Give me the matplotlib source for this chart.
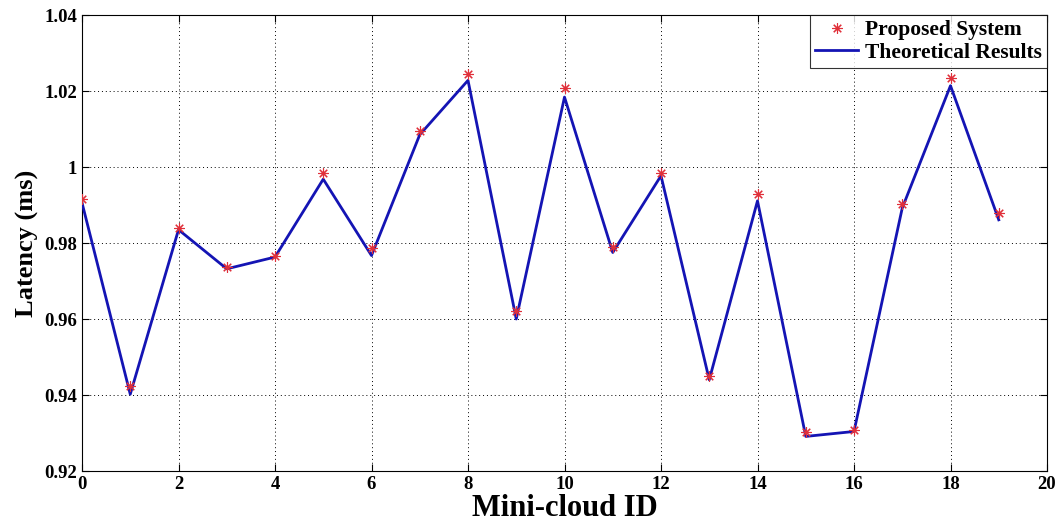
import matplotlib
matplotlib.use("Agg")
import matplotlib.pyplot as plt
import numpy as np

plt.rcParams['font.family'] = ['Liberation Serif', 'DejaVu Serif']
plt.rcParams['font.weight'] = 'bold'

# Mini-cloud identifiers
cloud_ids = list(range(20))

# Measured latency of the proposed system (ms)
proposed = [0.9916, 0.9423, 0.9840, 0.9737, 0.9767, 0.9984, 0.9787,
            1.0094, 1.0246, 0.9620, 1.0208, 0.9789, 0.9984, 0.9449,
            0.9929, 0.9303, 0.9309, 0.9903, 1.0234, 0.9879]

# Theoretical latency (ms)
theoretical = [0.9906, 0.9402, 0.9835, 0.9732, 0.9763, 0.9968, 0.9767,
               1.0085, 1.0228, 0.9600, 1.0184, 0.9775, 0.9977, 0.9440,
               0.9911, 0.9291, 0.9304, 0.9892, 1.0214, 0.9861]

x_ticks = [0, 2, 4, 6, 8, 10, 12, 14, 16, 18, 20]
y_ticks = [0.92, 0.94, 0.96, 0.98, 1.00, 1.02, 1.04]
y_tick_labels = ['0.92', '0.94', '0.96', '0.98', '1', '1.02', '1.04']

fig = plt.figure(figsize=(10.62, 5.26), dpi=100)
ax = fig.add_axes([82 / 1062, 1 - 471 / 526, (1047 - 82) / 1062, (471 - 15) / 526])

# asterisk marker: eight arms, like a "+" laid over an "x"
ax.plot(cloud_ids, proposed, linestyle='none', marker=(8, 2, 0), color='#e0303a',
        markersize=7.5, markeredgewidth=0.8, label='Proposed System', zorder=4)
ax.plot(cloud_ids, theoretical, color='#1414b4', linewidth=2.0,
        label='Theoretical Results', zorder=3)

ax.set_xlim(0, 20)
ax.set_ylim(0.92, 1.04)
ax.set_xticks(x_ticks)
ax.set_yticks(y_ticks)
ax.set_yticklabels(y_tick_labels)

ax.grid(True, color='black', linestyle=(0, (1, 3)), linewidth=0.7)
ax.tick_params(direction='in', top=True, right=True, length=5, width=0.8,
               labelsize=13.5)
for lbl in ax.get_xticklabels() + ax.get_yticklabels():
    lbl.set_fontweight('bold')
for s in ax.spines.values():
    s.set_linewidth(0.8)

ax.set_xlabel('Mini-cloud ID', fontsize=22, fontweight='bold', labelpad=1)
ax.set_ylabel('Latency (ms)', fontsize=19, fontweight='bold', labelpad=4)

leg = ax.legend(loc='upper right', fontsize=15.5, frameon=True, fancybox=False,
                edgecolor='black', borderpad=0.25, handlelength=2.0,
                handletextpad=0.3, labelspacing=0.1, borderaxespad=0.0)
leg.get_frame().set_linewidth(0.8)
for t in leg.get_texts():
    t.set_fontweight('bold')

fig.savefig('out.png', dpi=100)
